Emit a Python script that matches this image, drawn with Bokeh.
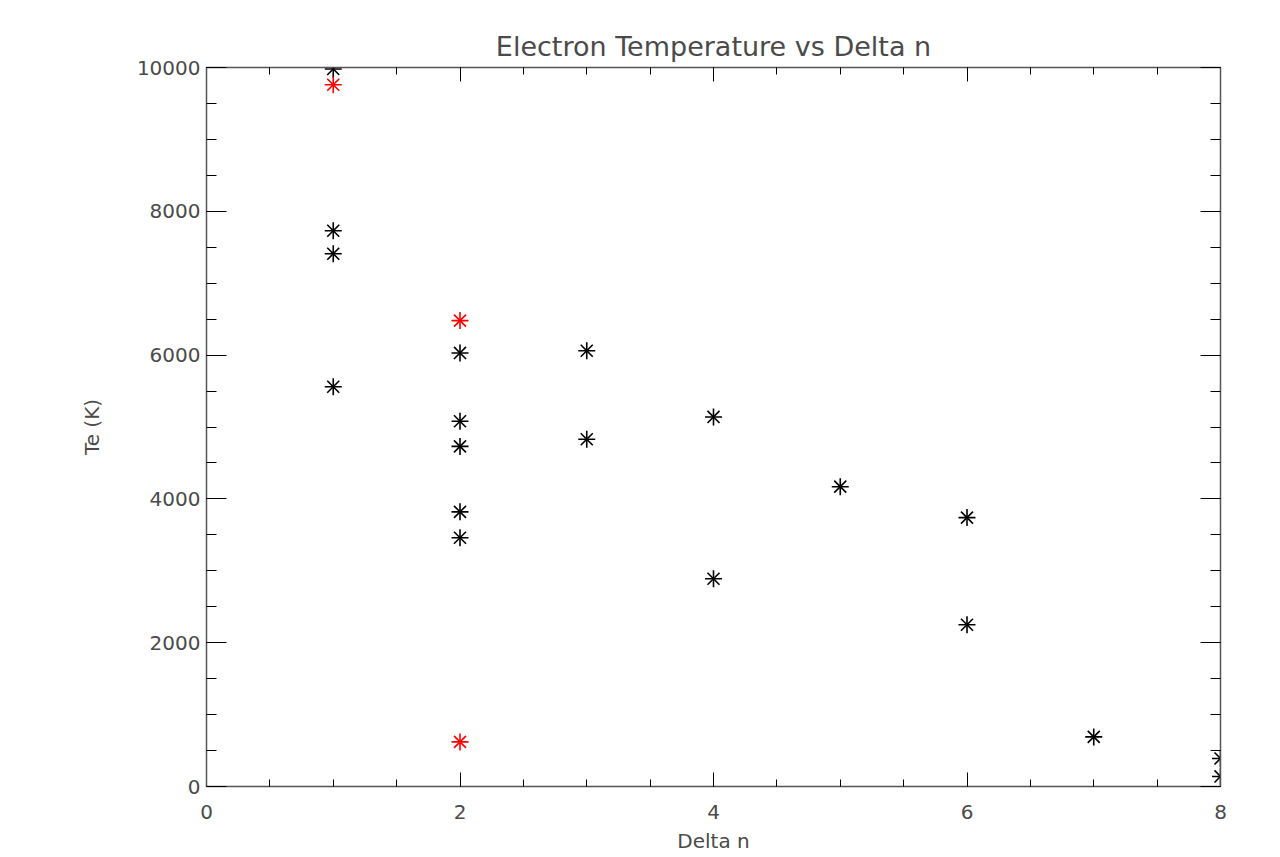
from bokeh.plotting import figure
from bokeh.models import LinearAxis, SingleIntervalTicker, CustomJSTickFormatter, Range1d, Title
from bokeh.embed import file_html
from bokeh.resources import INLINE

# black points
delta_n_black = [1, 1, 1, 1, 2, 2, 2, 2, 2, 3, 3, 4, 4, 5, 6, 6, 7, 8, 8]
te_black = [9980, 7730, 7410, 5560, 6030, 5080, 4730, 3820, 3460, 6060, 4830, 5140, 2890, 4170, 3740, 2250, 690, 390, 140]
# red points
delta_n_red = [1, 2, 2]
te_red = [9760, 6480, 620]

x_ticks = [0, 2, 4, 6, 8]
y_ticks = [0, 2000, 4000, 6000, 8000, 10000]

FONT = "DejaVu Sans"
TXT = "#4a4a4a"

p = figure(width=1270, height=855, output_backend="svg", toolbar_location=None,
           x_range=Range1d(0, 8), y_range=Range1d(0, 10000),
           min_border_left=206, min_border_right=50, min_border_top=67, min_border_bottom=69)
p.grid.visible = False
p.outline_line_color = None
p.background_fill_color = "white"
p.border_fill_color = "white"

p.title = Title(text="Electron Temperature vs Delta n", align="center",
                text_font=FONT, text_font_size="27px", text_font_style="normal",
                text_color=TXT, offset=0, standoff=12)

def style(ax, major_len, minor_len, labels=True):
    ax.axis_line_color = "#555555"
    ax.axis_line_width = 1.5
    ax.major_tick_line_color = "black"
    ax.minor_tick_line_color = "black"
    ax.major_tick_in = major_len
    ax.major_tick_out = 0
    ax.minor_tick_in = minor_len
    ax.minor_tick_out = 0
    ax.major_label_text_font = FONT
    ax.major_label_text_font_size = "20px"
    ax.major_label_text_color = TXT
    ax.axis_label_text_font = FONT
    ax.axis_label_text_font_size = "20px"
    ax.axis_label_text_font_style = "normal"
    ax.axis_label_text_color = TXT
    if not labels:
        ax.formatter = CustomJSTickFormatter(code="return ''")
        ax.major_label_standoff = 0

xt = SingleIntervalTicker(interval=2, num_minor_ticks=4)
yt = SingleIntervalTicker(interval=2000, num_minor_ticks=4)

p.xaxis.ticker = xt
p.yaxis.ticker = yt
style(p.xaxis[0], 14, 7)
style(p.yaxis[0], 20, 10)
p.xaxis.axis_label = "Delta n"
p.yaxis.axis_label = "Te (K)"
p.xaxis.major_label_standoff = 18
p.yaxis.major_label_standoff = 6
p.xaxis.axis_label_standoff = 7
p.yaxis.axis_label_standoff = 30

top = LinearAxis(ticker=SingleIntervalTicker(interval=2, num_minor_ticks=4))
style(top, 14, 7, labels=False)
p.add_layout(top, "above")
right = LinearAxis(ticker=SingleIntervalTicker(interval=2000, num_minor_ticks=4))
style(right, 20, 10, labels=False)
p.add_layout(right, "right")

for xs, ys, col in [(delta_n_black, te_black, "black"), (delta_n_red, te_red, "red")]:
    p.scatter(xs, ys, marker="cross", size=17, line_color=col, line_width=1.6)
    p.scatter(xs, ys, marker="x", size=17, line_color=col, line_width=1.6)

open("out.html", "w").write(file_html(p, INLINE))
